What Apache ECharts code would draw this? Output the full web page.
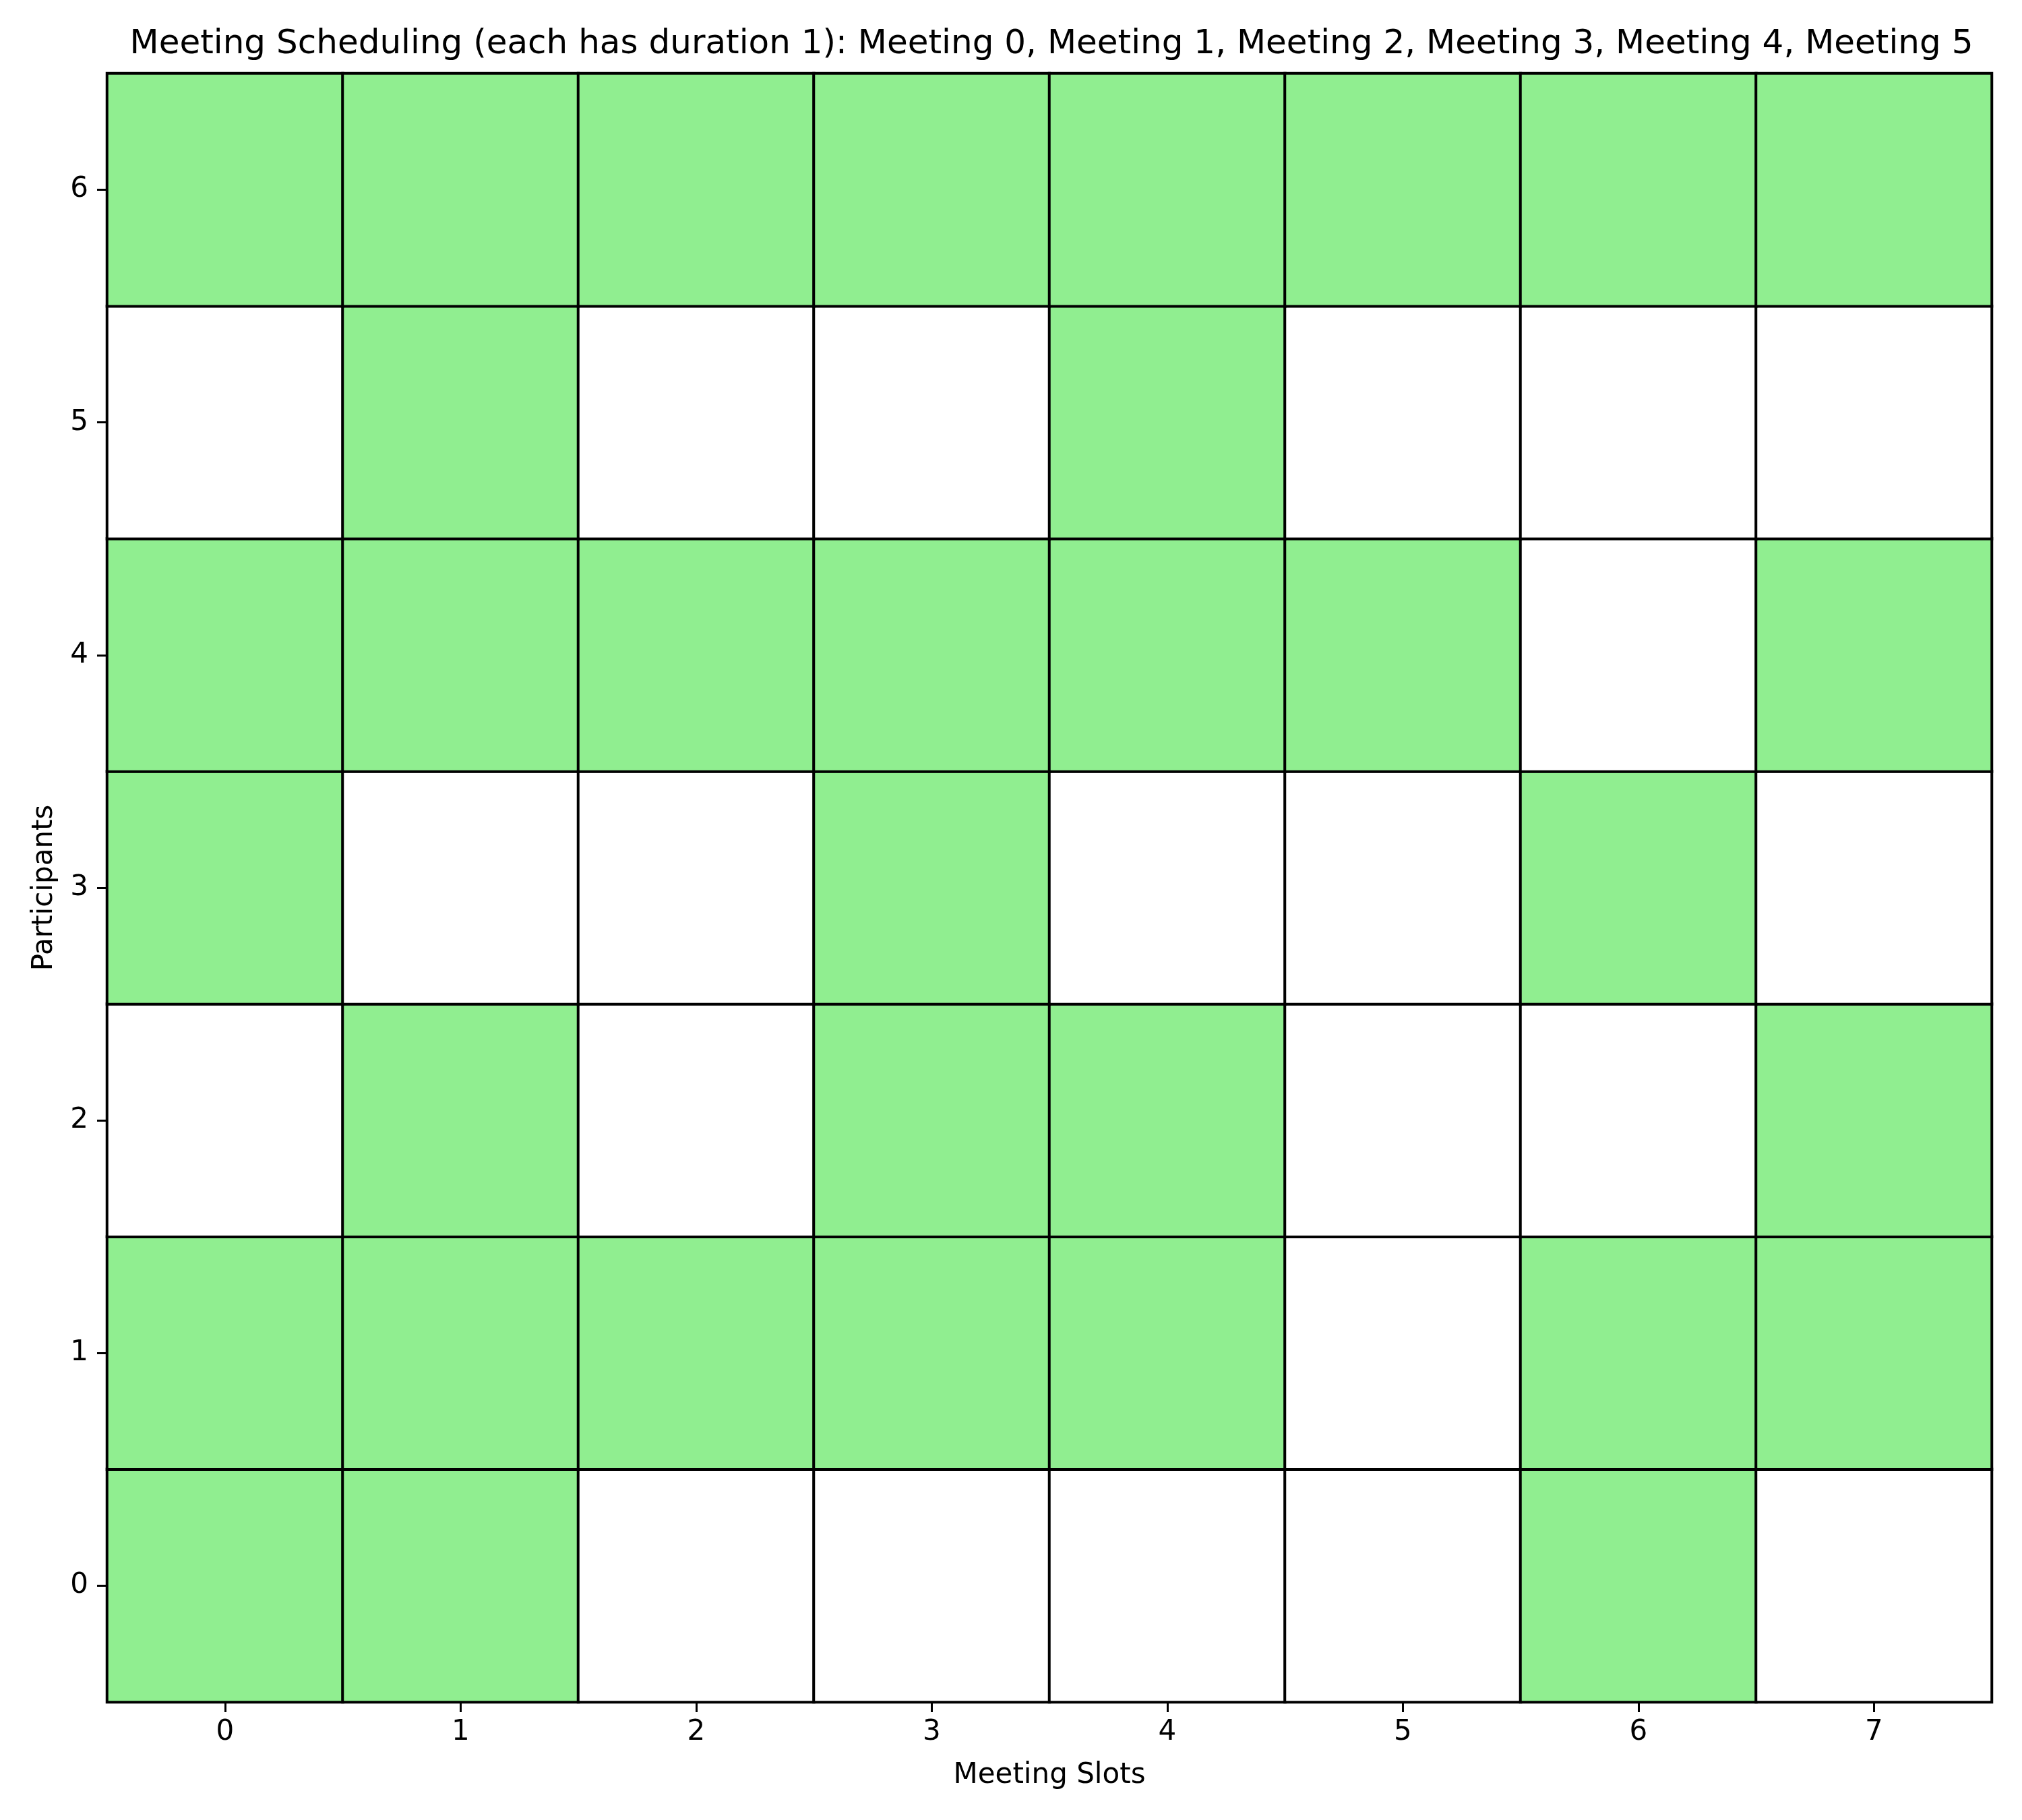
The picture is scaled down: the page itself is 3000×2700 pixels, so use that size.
<!DOCTYPE html>
<html>
<head>
<meta charset="utf-8">
<script src="https://cdn.jsdelivr.net/npm/echarts@6/dist/echarts.min.js"></script>
<style>
html,body{margin:0;padding:0;background:#fff;}
#chart{width:3000px;height:2700px;}
</style>
</head>
<body>
<div id="chart"></div>
<script>
// Meeting slots (x) and participants (y)
const slots = ['0','1','2','3','4','5','6','7'];
const participants = ['0','1','2','3','4','5','6'];
// availability rows, participant 0 .. 6, per slot 0..7 (1 = available)
const row0 = [1,1,0,0,0,0,1,0];
const row1 = [1,1,1,1,1,0,1,1];
const row2 = [0,1,0,1,1,0,0,1];
const row3 = [1,0,0,1,0,0,1,0];
const row4 = [1,1,1,1,1,1,0,1];
const row5 = [0,1,0,0,1,0,0,0];
const row6 = [1,1,1,1,1,1,1,1];
const rows = [row0,row1,row2,row3,row4,row5,row6];

const data = [];
rows.forEach((r, yi) => r.forEach((v, xi) => data.push([xi, yi, v])));

const font = 'DejaVu Sans';
const chart = echarts.init(document.getElementById('chart'), null, {renderer:'canvas'});
chart.setOption({
  backgroundColor: '#ffffff',
  animation: false,
  title: {
    text: 'Meeting Scheduling (each has duration 1): Meeting 0, Meeting 1, Meeting 2, Meeting 3, Meeting 4, Meeting 5',
    left: 1555, textAlign: 'center', top: 36,
    textStyle: {fontFamily: font, fontSize: 50, fontWeight: 'normal', color: '#000'}
  },
  grid: {left: 159, top: 109, width: 2796, height: 2416, containLabel: false},
  xAxis: {
    type: 'category', data: slots,
    name: 'Meeting Slots', nameLocation: 'middle', nameGap: 88,
    nameTextStyle: {fontFamily: font, fontSize: 42, color: '#000', verticalAlign: 'top'},
    axisLine: {show: true, lineStyle: {color: '#000', width: 4}},
    axisTick: {show: true, alignWithLabel: true, length: 15, lineStyle: {color: '#000', width: 3}},
    axisLabel: {fontFamily: font, fontSize: 42, color: '#000', margin: 24},
    splitLine: {show: false}
  },
  yAxis: {
    type: 'category', data: participants,
    name: 'Participants', nameLocation: 'middle', nameGap: 72,
    nameTextStyle: {fontFamily: font, fontSize: 42, color: '#000'},
    axisLine: {show: true, lineStyle: {color: '#000', width: 4}},
    axisTick: {show: true, alignWithLabel: true, length: 15, lineStyle: {color: '#000', width: 3}},
    axisLabel: {fontFamily: font, fontSize: 42, color: '#000', margin: 28},
    splitLine: {show: false}
  },
  visualMap: {
    show: false, type: 'piecewise', dimension: 2,
    pieces: [{value: 0, color: '#ffffff'}, {value: 1, color: '#90ee90'}]
  },
  series: [{
    type: 'heatmap', data: data,
    itemStyle: {borderColor: '#000', borderWidth: 4},
    emphasis: {disabled: true}
  }]
});
</script>
</body>
</html>
